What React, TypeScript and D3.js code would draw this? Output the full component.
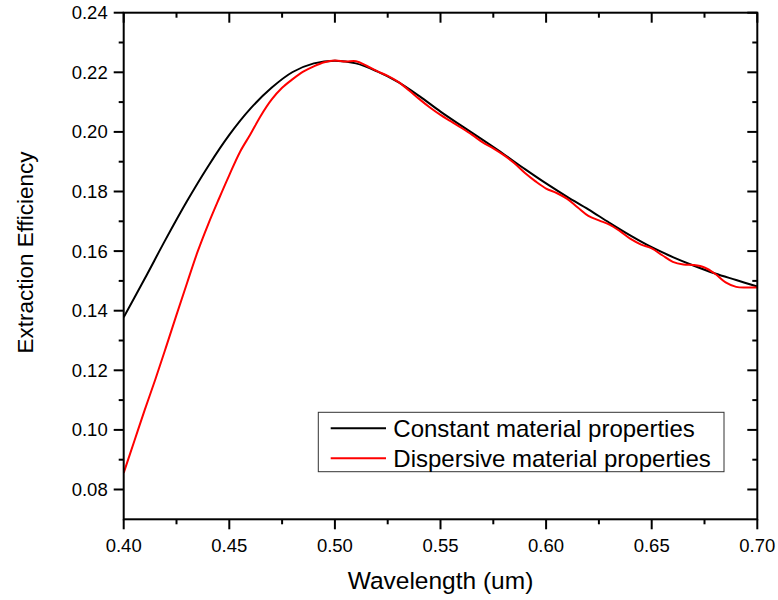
import React from "react";
import * as d3 from "d3";

const constWl = [0.40,0.41,0.42,0.43,0.44,0.45,0.46,0.47,0.48,0.49,0.50,0.51,0.52,0.53,0.54,0.55,0.56,0.57,0.58,0.59,0.60,0.61,0.62,0.63,0.64,0.65,0.66,0.67,0.68,0.69,0.70];
const constEff = [0.1378,0.1508,0.1641,0.1768,0.1885,0.1990,0.2078,0.2148,0.2201,0.2230,0.2239,0.2230,0.2203,0.2167,0.2120,0.2068,0.2020,0.1973,0.1925,0.1875,0.1827,0.1782,0.1740,0.1695,0.1652,0.1613,0.1580,0.1551,0.1525,0.1503,0.1481];

const dispWl = [0.400,0.405,0.410,0.415,0.420,0.425,0.430,0.435,0.440,0.445,0.450,0.455,0.460,0.465,0.470,0.475,0.480,0.485,0.490,0.495,0.500,0.505,0.510,0.515,0.520,0.525,0.530,0.535,0.540,0.545,0.550,0.555,0.560,0.565,0.570,0.575,0.580,0.585,0.590,0.595,0.600,0.605,0.610,0.615,0.620,0.625,0.630,0.635,0.640,0.645,0.650,0.655,0.660,0.665,0.670,0.675,0.680,0.685,0.690,0.695,0.700];
const dispEff = [0.0856,0.0962,0.1068,0.1170,0.1277,0.1386,0.1493,0.1598,0.1690,0.1774,0.1855,0.1932,0.1992,0.2055,0.2108,0.2148,0.2177,0.2202,0.2220,0.2234,0.2240,0.2236,0.2237,0.2222,0.2204,0.2188,0.2168,0.2140,0.2110,0.2082,0.2057,0.2035,0.2013,0.1990,0.1965,0.1945,0.1922,0.1895,0.1862,0.1834,0.1810,0.1795,0.1775,0.1746,0.1718,0.1703,0.1689,0.1667,0.1641,0.1622,0.1609,0.1586,0.1564,0.1555,0.1553,0.1545,0.1524,0.1495,0.1480,0.1478,0.1478];

const xTicks = [0.40,0.45,0.50,0.55,0.60,0.65,0.70];
const xMinor = [0.425,0.475,0.525,0.575,0.625,0.675];
const yTicks = [0.08,0.10,0.12,0.14,0.16,0.18,0.20,0.22,0.24];
const yMinor = [0.09,0.11,0.13,0.15,0.17,0.19,0.21,0.23];

const seriesNames = ["Constant material properties", "Dispersive material properties"];
const seriesColors = ["#000000", "#ff0000"];

export default function App() {
  const W = 778, H = 600;
  const L = 123.7, R = 757.3, T = 12.7, B = 519.3;
  const x = d3.scaleLinear().domain([0.40, 0.70]).range([L, R]);
  const y = d3.scaleLinear().domain([0.07, 0.24]).range([B, T]);
  const line = d3.line<[number, number]>().x(d => x(d[0])).y(d => y(d[1])).curve(d3.curveCatmullRom);
  const cPts = constWl.map((w, i) => [w, constEff[i]] as [number, number]);
  const dPts = dispWl.map((w, i) => [w, dispEff[i]] as [number, number]);
  const font = "'Liberation Sans', Arial, sans-serif";
  return (
    <svg width={W} height={H} style={{ position: "absolute", left: 0, top: 0, background: "#fff" }} fontFamily={font}>
      <rect x={0} y={0} width={W} height={H} fill="#fff" />
      <defs>
        <clipPath id="plot"><rect x={L} y={T} width={R - L} height={B - T} /></clipPath>
      </defs>
      <g clipPath="url(#plot)" fill="none" strokeWidth={2}>
        <path d={line(cPts) || ""} stroke={seriesColors[0]} />
        <path d={line(dPts) || ""} stroke={seriesColors[1]} />
      </g>
      <g stroke="#000" strokeWidth={2}>
        <rect x={L} y={T} width={R - L} height={B - T} fill="none" />
        {xTicks.map(t => (
          <g key={"x" + t}>
            <line x1={x(t)} x2={x(t)} y1={B} y2={B + 10} />
            <line x1={x(t)} x2={x(t)} y1={T} y2={T + 10} />
          </g>
        ))}
        {xMinor.map(t => (
          <g key={"xm" + t}>
            <line x1={x(t)} x2={x(t)} y1={B} y2={B + 5} />
            <line x1={x(t)} x2={x(t)} y1={T} y2={T + 5} />
          </g>
        ))}
        {yTicks.map(t => (
          <g key={"y" + t}>
            <line x1={L - 10} x2={L} y1={y(t)} y2={y(t)} />
            <line x1={R - 10} x2={R} y1={y(t)} y2={y(t)} />
          </g>
        ))}
        {yMinor.map(t => (
          <g key={"ym" + t}>
            <line x1={L - 5} x2={L} y1={y(t)} y2={y(t)} />
            <line x1={R - 5} x2={R} y1={y(t)} y2={y(t)} />
          </g>
        ))}
      </g>
      <g fontSize={18.5} fill="#000">
        {xTicks.map(t => (
          <text key={"xl" + t} x={x(t)} y={551.5} textAnchor="middle">{t.toFixed(2)}</text>
        ))}
        {yTicks.map(t => (
          <text key={"yl" + t} x={L - 16} y={y(t)} dy="0.35em" textAnchor="end">{t.toFixed(2)}</text>
        ))}
      </g>
      <text x={(L + R) / 2} y={589} textAnchor="middle" fontSize={24.5}>Wavelength (um)</text>
      <text transform={`translate(33,252.5) rotate(-90)`} textAnchor="middle" fontSize={22.5}>Extraction Efficiency</text>
      <g>
        <rect x={318.3} y={412.3} width={405.7} height={59.4} fill="#fff" stroke="#333" strokeWidth={1} />
        {seriesNames.map((n, i) => (
          <g key={n}>
            <line x1={330.7} x2={386} y1={428.3 + i * 30} y2={428.3 + i * 30} stroke={seriesColors[i]} strokeWidth={2} />
            <text x={393.3} y={428.3 + i * 30} dy="0.36em" fontSize={24}>{n}</text>
          </g>
        ))}
      </g>
    </svg>
  );
}
